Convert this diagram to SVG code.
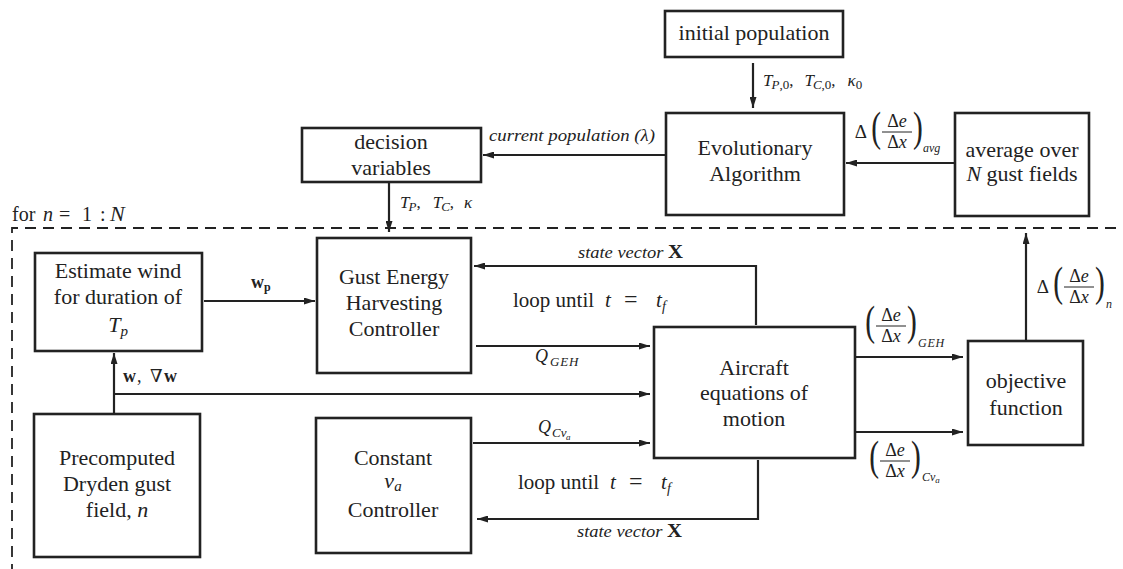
<svg xmlns="http://www.w3.org/2000/svg" xmlns:xlink="http://www.w3.org/1999/xlink" width="1123" height="569" viewBox="0 0 1123 569">
<style>
.box{fill:#fff;stroke:#222;stroke-width:2.6}
.ln{fill:none;stroke:#222;stroke-width:2.2}
.arr{marker-end:url(#ah)}
.dash{fill:none;stroke:#222;stroke-width:1.8;stroke-dasharray:11 7}
text{font-family:'Liberation Serif','DejaVu Serif','Noto Serif',Times,serif;fill:#222}
.t{font-size:22px;text-anchor:middle}
.m{font-size:17px}
.i{font-style:italic}
.b{font-weight:bold}
.sub{font-size:12px}
.s13{font-size:13px}
.big{font-size:42px}
</style>
<defs>
<marker id="ah" markerUnits="userSpaceOnUse" markerWidth="11" markerHeight="7" refX="11" refY="3.5" orient="auto">
<path d="M0,0 L11,3.5 L0,7 Z" fill="#222"/>
</marker>
<g id="frac">
<text class="big" text-anchor="end" transform="translate(-1,9) scale(0.7,1)">(</text>
<text x="15" y="-5" font-size="18" text-anchor="middle">Δ<tspan class="i">e</tspan></text>
<line x1="0" y1="0" x2="30" y2="0" stroke="#222" stroke-width="1"/>
<text x="15" y="16" font-size="18" text-anchor="middle">Δ<tspan class="i">x</tspan></text>
<text class="big" transform="translate(31,9) scale(0.7,1)">)</text>
</g>
</defs>

<!-- loop boundary -->
<path class="dash" d="M1116,228 L12,228 L12,569"/>
<text y="221" font-size="20"><tspan x="12">for</tspan><tspan x="43" class="i">n</tspan><tspan x="59">=</tspan><tspan x="82">1</tspan><tspan x="100">:</tspan><tspan x="110" class="i" font-size="22">N</tspan></text>

<g id="connectors">
<path class="ln arr" d="M753,63 L753,108"/>
<path class="ln arr" d="M666,155 L483,155"/>
<path class="ln arr" d="M389,183 L389,232"/>
<path class="ln arr" d="M954,163 L846,163"/>
<path class="ln arr" d="M1026,340 L1026,233"/>
<path class="ln arr" d="M204,301 L315,301"/>
<path class="ln arr" d="M114,413 L114,353"/>
<path class="ln arr" d="M114,394 L650,394"/>
<path class="ln arr" d="M476,346 L650,346"/>
<path class="ln arr" d="M473,443 L650,443"/>
<path class="ln arr" d="M756,325 L756,266 L474,266"/>
<path class="ln arr" d="M758,460 L758,519 L477,519"/>
<path class="ln arr" d="M855,357 L963,357"/>
<path class="ln arr" d="M855,432 L963,432"/>
</g>

<g id="labels">
<text class="m" x="763" y="86"><tspan class="i">T</tspan><tspan class="s13 i" dy="3" dx="-1">P</tspan><tspan class="s13">,0</tspan><tspan dy="-3">,</tspan><tspan class="i" dx="11">T</tspan><tspan class="s13 i" dy="3" dx="-1">C</tspan><tspan class="s13">,0</tspan><tspan dy="-3">,</tspan><tspan class="i" dx="12">κ</tspan><tspan class="s13" dy="3">0</tspan></text>
<text class="m i" x="489" y="141" font-size="15" textLength="166" lengthAdjust="spacingAndGlyphs">current population (λ)</text>
<text class="m" x="400" y="208"><tspan class="i">T</tspan><tspan class="s13 i" dy="3" dx="-1">P</tspan><tspan dy="-3">,</tspan><tspan class="i" dx="12">T</tspan><tspan class="s13 i" dy="3" dx="-1">C</tspan><tspan dy="-3">,</tspan><tspan class="i" dx="10">κ</tspan></text>
<text class="b" x="251" y="288" font-size="18">w<tspan class="sub" dy="3">p</tspan></text>
<text font-size="18" y="382"><tspan x="123" class="b">w</tspan><tspan x="137">,</tspan><tspan x="150">∇</tspan><tspan x="164" class="b">w</tspan></text>
<text x="578" y="258" font-size="16" textLength="105" lengthAdjust="spacingAndGlyphs"><tspan class="i">state vector </tspan><tspan class="b" font-size="18">X</tspan></text>
<text y="307" font-size="21"><tspan x="513">loop until</tspan><tspan x="605" class="i">t</tspan><tspan x="624" font-size="24">=</tspan><tspan x="656" class="i">t</tspan><tspan x="662" y="311" class="i" font-size="14">f</tspan></text>
<text><tspan x="535" y="362" class="i" font-size="18">Q</tspan><tspan x="550" y="366" class="i" font-size="13" letter-spacing="0.8">GEH</tspan></text>
<text><tspan x="538" y="433" class="i" font-size="18">Q</tspan><tspan x="552" y="437" class="i" font-size="13">Cv</tspan><tspan x="566" y="440" class="i" font-size="9">a</tspan></text>
<text y="489" font-size="21"><tspan x="518">loop until</tspan><tspan x="610" class="i">t</tspan><tspan x="629" font-size="24">=</tspan><tspan x="661" class="i">t</tspan><tspan x="667" y="493" class="i" font-size="14">f</tspan></text>
<text x="577" y="537" font-size="16" textLength="105" lengthAdjust="spacingAndGlyphs"><tspan class="i">state vector </tspan><tspan class="b" font-size="18">X</tspan></text>

<text x="867" y="138" font-size="19" text-anchor="end">Δ</text>
<use xlink:href="#frac" x="882" y="132"/>
<text class="sub i" x="923" y="152">avg</text>

<use xlink:href="#frac" x="876" y="326"/>
<text class="sub i" x="918" y="347" letter-spacing="0.8">GEH</text>

<use xlink:href="#frac" x="880" y="461"/>
<text class="sub i" x="922" y="481">Cv<tspan font-size="9" dy="2">a</tspan></text>

<text x="1049" y="293" font-size="19" text-anchor="end">Δ</text>
<use xlink:href="#frac" x="1064" y="287"/>
<text class="sub i" x="1106" y="308">n</text>
</g>

<g id="initial">
<rect class="box" x="665" y="11" width="178" height="46"/>
<text class="t" x="754" y="40">initial population</text>
</g>
<g id="ea">
<rect class="box" x="666" y="113" width="178" height="102"/>
<text class="t" x="755" y="155">Evolutionary</text>
<text class="t" x="755" y="181">Algorithm</text>
</g>
<g id="decision">
<rect class="box" x="302" y="128" width="179" height="54"/>
<text class="t" x="391" y="149">decision</text>
<text class="t" x="391" y="175">variables</text>
</g>
<g id="average">
<rect class="box" x="955" y="113" width="134" height="103"/>
<text class="t" x="1022" y="157">average over</text>
<text class="t" x="1022" y="181"><tspan class="i">N</tspan> gust fields</text>
</g>
<g id="estimate">
<rect class="box" x="35" y="253" width="167" height="98"/>
<text class="t" x="118" y="278">Estimate wind</text>
<text class="t" x="118" y="304">for duration of</text>
<text class="t" x="118" y="332"><tspan class="i">T</tspan><tspan class="i" font-size="15" dy="4">p</tspan></text>
</g>
<g id="geh">
<rect class="box" x="317" y="238" width="154" height="135"/>
<text class="t" x="394" y="284">Gust Energy</text>
<text class="t" x="394" y="310">Harvesting</text>
<text class="t" x="394" y="336">Controller</text>
</g>
<g id="aircraft">
<rect class="box" x="654" y="327" width="201" height="131"/>
<text class="t" x="754" y="375">Aircraft</text>
<text class="t" x="754" y="400">equations of</text>
<text class="t" x="754" y="426">motion</text>
</g>
<g id="objective">
<rect class="box" x="968" y="341" width="115" height="104"/>
<text class="t" x="1026" y="388">objective</text>
<text class="t" x="1026" y="415">function</text>
</g>
<g id="precomputed">
<rect class="box" x="34" y="414" width="166" height="143"/>
<text class="t" x="117" y="465">Precomputed</text>
<text class="t" x="117" y="491">Dryden gust</text>
<text class="t" x="117" y="517">field, <tspan class="i">n</tspan></text>
</g>
<g id="constant">
<rect class="box" x="316" y="418" width="155" height="135"/>
<text class="t" x="393" y="465">Constant</text>
<text class="t" x="393" y="488"><tspan class="i">v</tspan><tspan class="i" font-size="15" dy="3">a</tspan></text>
<text class="t" x="393" y="517">Controller</text>
</g>
</svg>
